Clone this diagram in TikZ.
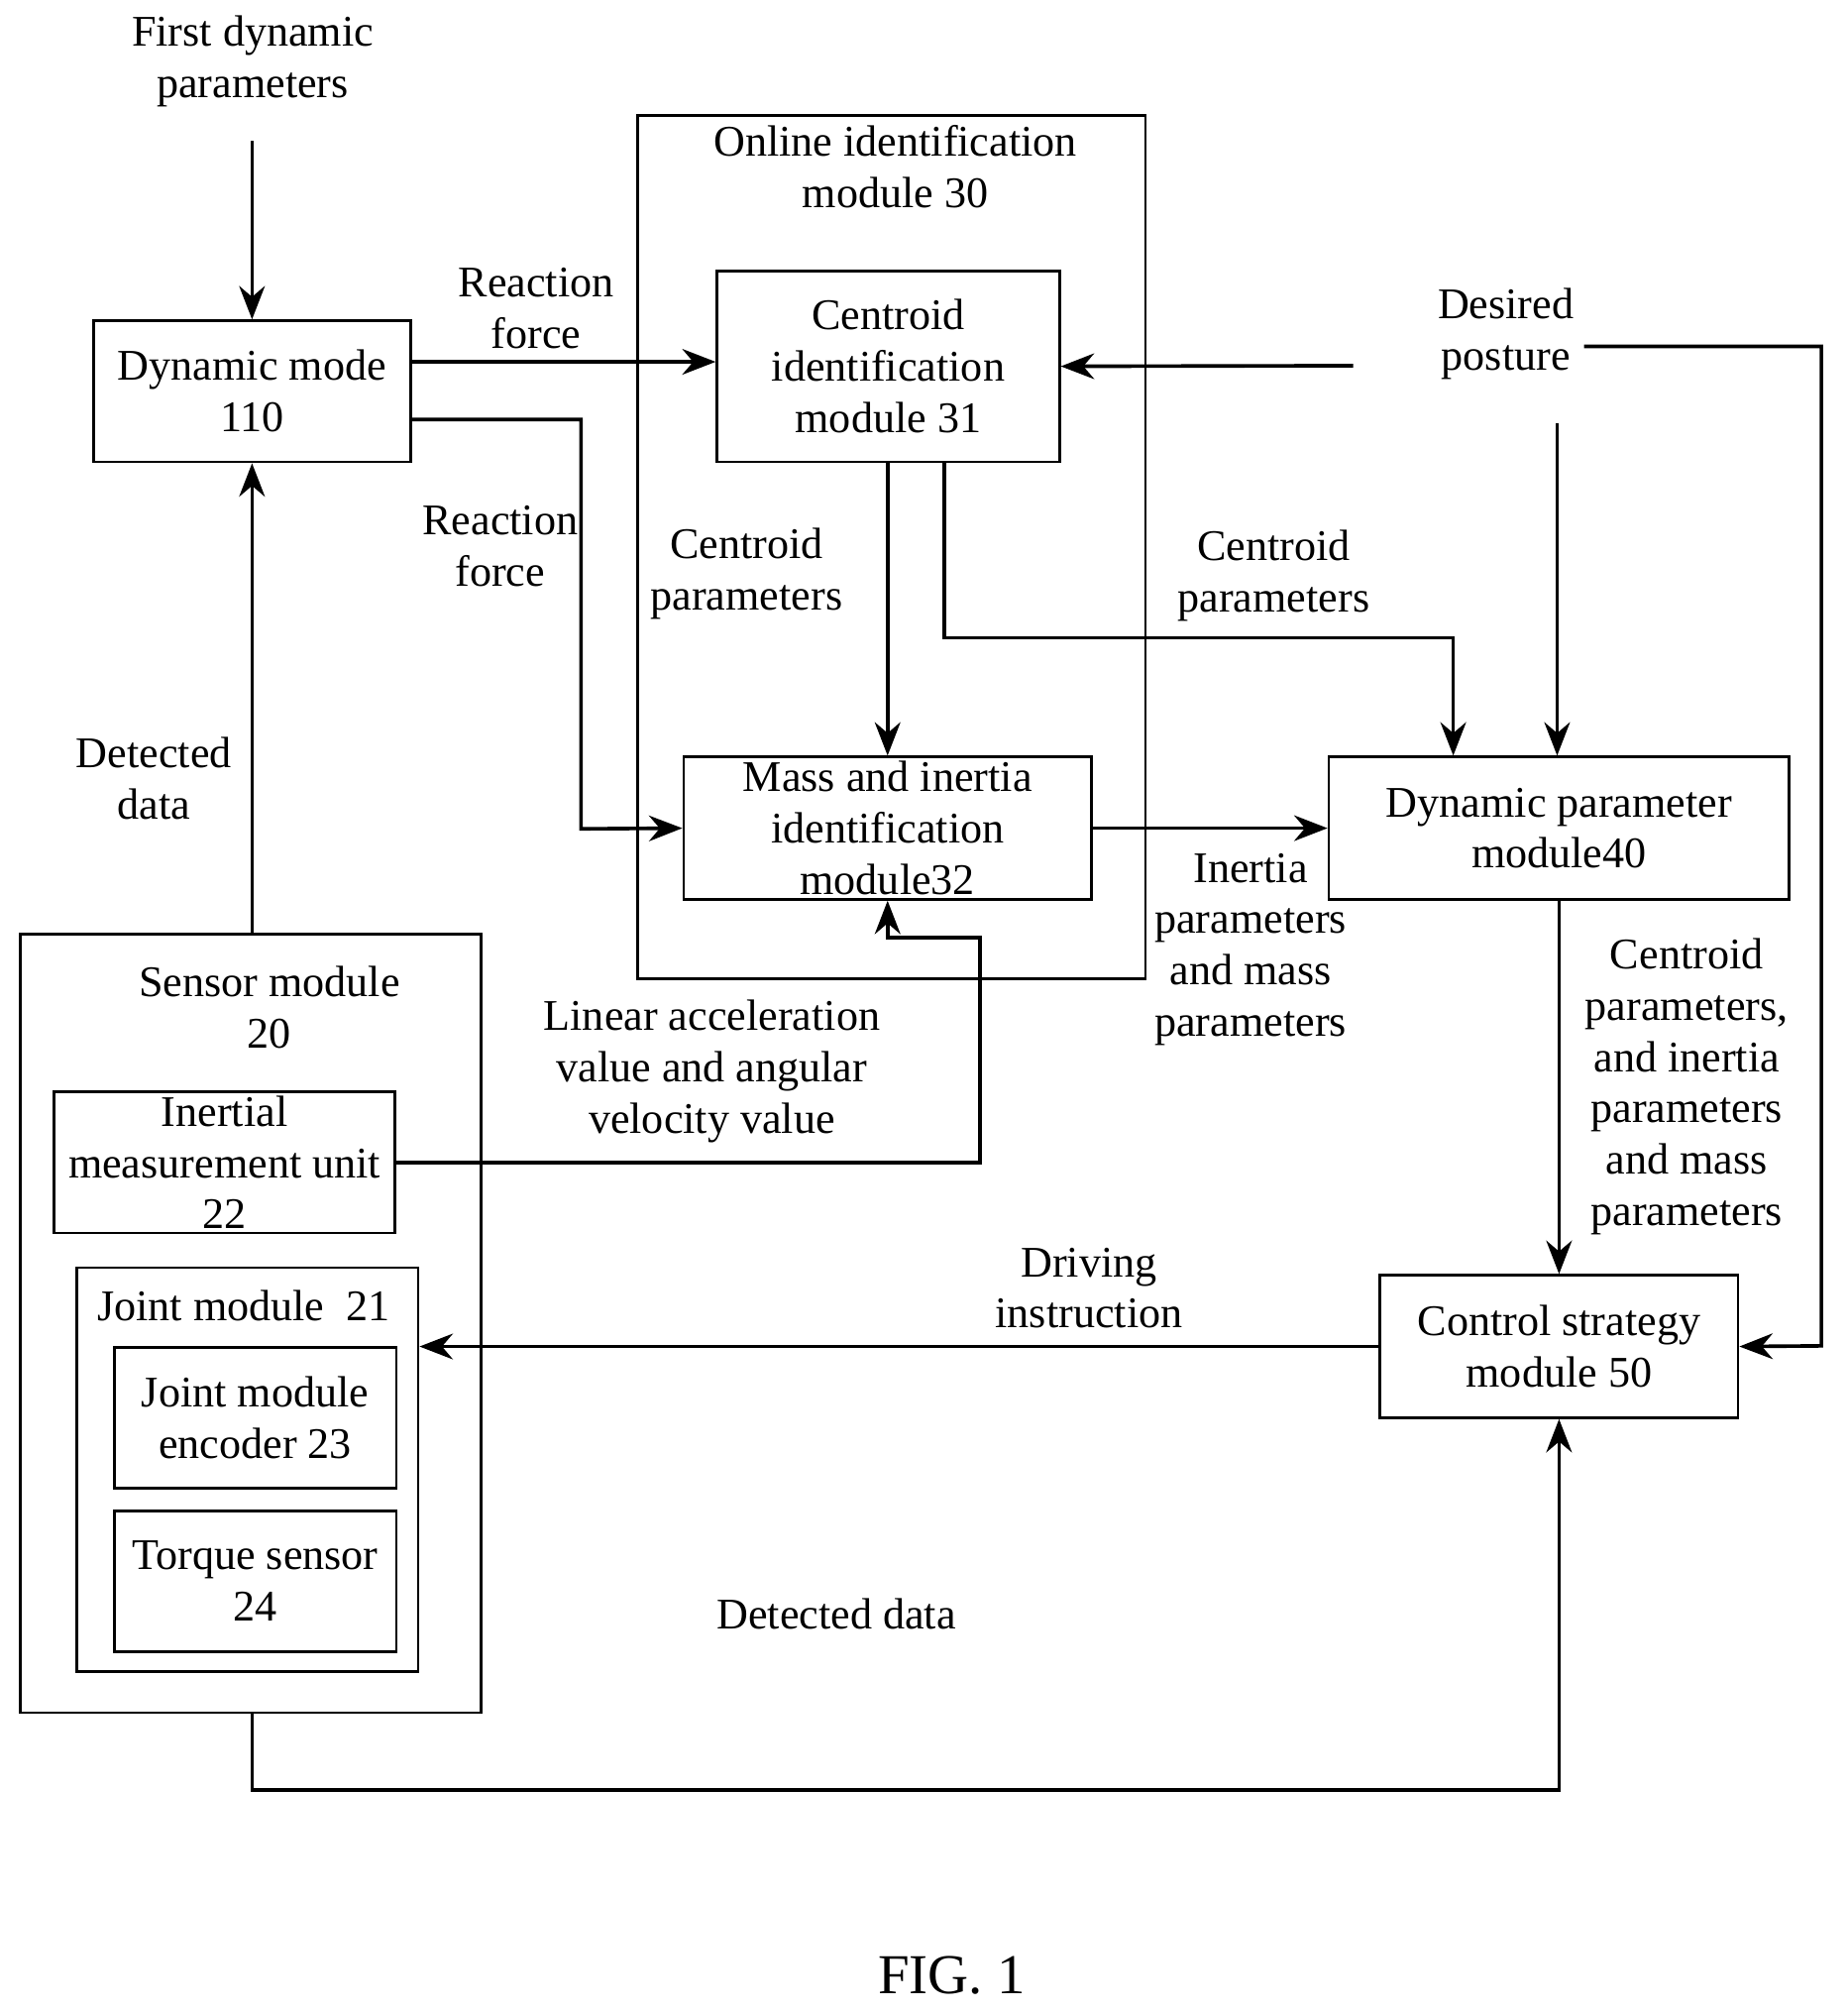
\documentclass[tikz,border=0pt]{standalone}
\usepackage{fontspec}
\setmainfont{Liberation Serif}
\usetikzlibrary{arrows.meta,positioning}
\tikzset{
  box/.style={draw, semithick, align=center, inner sep=0pt},
  lbl/.style={align=center, inner sep=0pt},
  line/.style={semithick},
  arr/.style={thick, -{Stealth[length=2.6mm,width=2mm]}}
}
\begin{document}
\begin{tikzpicture}[font=\fontsize{9.7}{11.4}\selectfont]
\useasboundingbox (0,0) rectangle (14.4,-15.69);

\draw[line] (4.97,-0.9) rectangle (8.93,-7.63);
\node (ontitle) at (6.98,-1.3) [lbl] {Online identification\\module 30};

\node (dyn) at (1.965,-3.05) [box, minimum width=2.47cm, minimum height=1.1cm] {Dynamic mode\\110};
\node (cent) at (6.925,-2.855) [box, minimum width=2.67cm, minimum height=1.49cm] {Centroid\\identification\\module 31};
\node (mass) at (6.92,-6.455) [box, minimum width=3.18cm, minimum height=1.11cm] {Mass and inertia\\identification\\module32};
\node (dpm) at (12.155,-6.455) [box, minimum width=3.59cm, minimum height=1.11cm] {Dynamic parameter\\module40};
\node (ctrl) at (12.155,-10.495) [box, minimum width=2.79cm, minimum height=1.11cm] {Control strategy\\module 50};

\node (sensor) at (1.955,-10.315) [box, minimum width=3.59cm, minimum height=6.07cm] {};
\node (sentitle) at (2.1,-7.85) [lbl] {Sensor module\\20};
\node (imu) at (1.75,-9.06) [box, minimum width=2.66cm, minimum height=1.1cm] {Inertial\\measurement unit\\22};
\node (joint) at (1.93,-11.455) [box, minimum width=2.66cm, minimum height=3.15cm] {};
\node (jtitle) at (1.9,-10.18) [lbl] {Joint module\enspace 21};
\node (enc) at (1.99,-11.05) [box, minimum width=2.2cm, minimum height=1.1cm] {Joint module\\encoder 23};
\node (torque) at (1.99,-12.325) [box, minimum width=2.2cm, minimum height=1.1cm] {Torque sensor\\24};

% labels
\node (first) at (1.97,-0.48) [lbl] {First dynamic\\parameters};
\node (react1) at (4.18,-2.4) [lbl] {Reaction\\force};
\node (react2) at (3.9,-4.26) [lbl] {Reaction\\force};
\node (cpar1) at (5.82,-4.47) [lbl] {Centroid\\parameters};
\node (cpar2) at (9.93,-4.49) [lbl] {Centroid\\parameters};
\node (desired) at (11.74,-2.6) [lbl] {Desired\\posture};
\node (ipar) at (9.75,-7.4) [lbl] {Inertia\\parameters\\and mass\\parameters};
\node (allpar) at (13.15,-8.47) [lbl] {Centroid\\parameters,\\and inertia\\parameters\\and mass\\parameters};
\node (drive) at (8.49,-10.04) [lbl] {Driving\\instruction};
\node (linacc) at (5.55,-8.35) [lbl] {Linear acceleration\\value and angular\\velocity value};
\node (det1) at (1.2,-6.07) [lbl] {Detected\\data};
\node (det2) at (6.52,-12.58) [lbl] {Detected data};
\node (fig) at (7.42,-15.4) [lbl, font=\fontsize{12.5}{14}\selectfont] {FIG. 1};

\coordinate (firstend) at (1.965,-1.1);
\coordinate (despt) at (10.55,-2.85);
\coordinate (desright) at (12.35,-2.7);
\coordinate (desdown) at (12.14,-3.3);

% connectors
\draw[arr] (firstend) -- (dyn.north);
\draw[arr] (dyn.east |- 0,-2.82) -- (cent.west |- 0,-2.82);
\draw[arr] (dyn.east |- 0,-3.27) -| (4.53,-6.46) -- (mass.west);
\draw[arr] (cent.south -| 6.92,0) -- (mass.north);
\draw[arr] (cent.south -| 7.36,0) |- (11.33,-4.97) -- (dpm.north -| 11.33,0);
\draw[arr] (despt) -- (cent.east);
\draw[arr] (desright) -| (14.2,-10.49) -- (ctrl.east);
\draw[arr] (desdown) -- (dpm.north -| 12.14,0);
\draw[arr] (mass.east) -- (dpm.west);
\draw[arr] (dpm.south) -- (ctrl.north);
\draw[arr] (ctrl.west) -- (joint.east |- ctrl.west);
\draw[arr] (imu.east) -| (7.64,-7.31) -| (mass.south);
\draw[arr] (sensor.north -| dyn.south) -- (dyn.south);
\draw[arr] (sensor.south -| 1.965,0) |- (12.155,-13.95) -- (ctrl.south);
\end{tikzpicture}
\end{document}
